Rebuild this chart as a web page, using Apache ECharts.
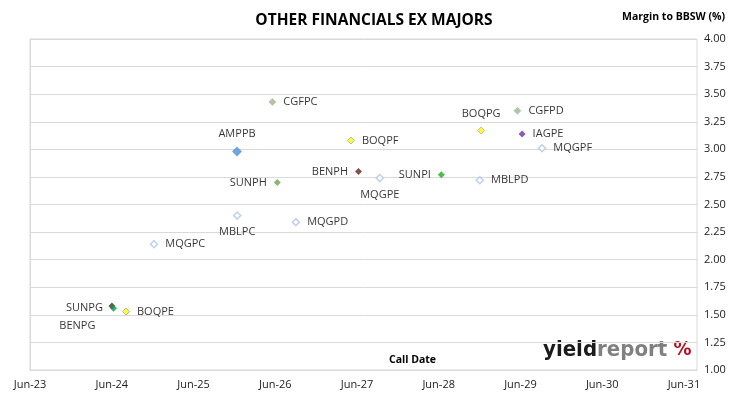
<!DOCTYPE html>
<html>
<head>
<meta charset="utf-8">
<script src="https://cdn.jsdelivr.net/npm/echarts@6/dist/echarts.min.js"></script>
<style>html,body{margin:0;padding:0;background:#fff;}#c{width:730px;height:399px;}</style>
</head>
<body>
<div id="c"></div>
<script>
// ---- data ----
const securities = ['CGFPC','AMPPB','BOQPF','BENPH','SUNPH','MBLPC','MQGPD','MQGPC','CGFPD','BOQPG','IAGPE','MQGPF','MQGPE','SUNPI','MBLPD','BENPG','SUNPG','BOQPE'];
const callDates  = ['2026-06-02','2025-12-26','2027-05-19','2027-06-22','2026-06-24','2025-12-27','2026-09-15','2024-12-20','2029-06-01','2028-12-21','2029-06-22','2029-09-19','2027-09-25','2028-06-26','2028-12-15','2024-06-15','2024-06-22','2024-08-17'];
const margins    = [3.43, 2.98, 3.08, 2.80, 2.70, 2.40, 2.34, 2.14, 3.35, 3.17, 3.14, 3.01, 2.74, 2.77, 2.72, 1.58, 1.56, 1.53];
const xTickLabels = ['Jun-23','Jun-24','Jun-25','Jun-26','Jun-27','Jun-28','Jun-29','Jun-30','Jun-31'];
const yTickMin = 1.00, yTickMax = 4.00, yTickStep = 0.25;

// ---- styles ----
const FONT = '"Open Sans", "Noto Sans", sans-serif';
const LOGOFONT = '"DejaVu Sans Condensed","DejaVu Sans",sans-serif';
const hollow = {color:'#ffffff', borderColor:'#b4c7e7', borderWidth:1.6};
const cgf = {color:'#a9b777',borderColor:'#9dc3e6',borderWidth:1};
const boq = {color:'#ffff00',borderColor:'#a6a6a6',borderWidth:1};
const styles = {
  CGFPC:{item:cgf, pos:'right'},
  AMPPB:{item:{color:'#4f8fdc'}, size:10, pos:'top'},
  BOQPF:{item:boq, pos:'right'},
  BENPH:{item:{color:'#632523'}, pos:'left'},
  SUNPH:{item:{color:'#6aa84f'}, pos:'left'},
  MBLPC:{item:hollow, pos:'bottom'},
  MQGPD:{item:hollow, pos:'right'},
  MQGPC:{item:hollow, pos:'right'},
  CGFPD:{item:cgf, pos:'right'},
  BOQPG:{item:boq, pos:'top'},
  IAGPE:{item:{color:'#7030a0'}, pos:'right'},
  MQGPF:{item:hollow, pos:'right'},
  MQGPE:{item:hollow, pos:'bottom'},
  SUNPI:{item:{color:'#1fae1f'}, pos:'left'},
  MBLPD:{item:hollow, pos:'right'},
  BENPG:{item:{color:'#4a2a20'}, pos:'left', offset:[-6,20]},
  SUNPG:{item:{color:'#00a050'}, pos:'left'},
  BOQPE:{item:boq, pos:'right'}
};

const epoch = Date.UTC(2023, 5, 15);
function yearsSinceStart(s){
  const p = s.split('-').map(Number);
  return (Date.UTC(p[0], p[1]-1, p[2]) - epoch) / (365.25*86400000);
}

const series = securities.map((name, i) => {
  const st = styles[name];
  return {
    type:'scatter', name:name,
    symbol:'diamond', symbolSize: st.size || 7,
    itemStyle: st.item,
    label:{show:true, formatter:name, position:st.pos, distance:7,
           offset: st.offset || [0,0],
           color:'#000', fontSize:11, fontFamily:FONT},
    emphasis:{disabled:true},
    data:[[yearsSinceStart(callDates[i]), margins[i]]]
  };
});

const chart = echarts.init(document.getElementById('c'), null, {renderer:'canvas'});
chart.setOption({
  animation:false,
  backgroundColor:'#ffffff',
  grid:{left:30, right:33, top:39, bottom:29, show:true, borderColor:'#d9d9d9', borderWidth:1, containLabel:false},
  title:{text:'OTHER FINANCIALS EX MAJORS', left:369, top:8, textAlign:'center',
         textStyle:{fontFamily:FONT, fontWeight:'bold', fontSize:15.5, color:'#000'}},
  xAxis:{type:'value', min:0, max:8.16, interval:1,
    axisLine:{show:true, lineStyle:{color:'#d9d9d9'}},
    axisTick:{show:false}, splitLine:{show:false},
    axisLabel:{margin:9, fontSize:11, fontFamily:FONT, color:'#222', showMaxLabel:true,
      formatter:v => Math.abs(v-Math.round(v))<1e-6 ? (xTickLabels[Math.round(v)]||'') : ''}
  },
  yAxis:{type:'value', position:'right', min:yTickMin, max:yTickMax, interval:yTickStep,
    axisLine:{show:true, lineStyle:{color:'#d9d9d9'}},
    axisTick:{show:false},
    splitLine:{show:true, lineStyle:{color:'#d9d9d9', width:1}},
    axisLabel:{margin:7, fontSize:11, fontFamily:FONT, color:'#222', formatter:v => v.toFixed(2)}
  },
  graphic:[
    {type:'text', right:5, top:12, style:{text:'Margin to BBSW (%)', fontFamily:FONT, fontWeight:'bold', fontSize:10.5, fill:'#000'}},
    {type:'text', left:389, top:355, style:{text:'Call Date', fontFamily:FONT, fontWeight:'bold', fontSize:10.5, fill:'#000'}},
    {type:'text', left:543, top:339, style:{
      rich:{
        a:{fontFamily:LOGOFONT, fontWeight:'bold', fontSize:22, fill:'#1a1a1a'},
        b:{fontFamily:LOGOFONT, fontWeight:'bold', fontSize:22, fill:'#808080'},
        c:{fontFamily:LOGOFONT, fontWeight:'bold', fontSize:20, fill:'#b01020'}
      },
      text:'{a|yield}{b|report}{c| %}'}}
  ],
  series:series
});
</script>
</body>
</html>
